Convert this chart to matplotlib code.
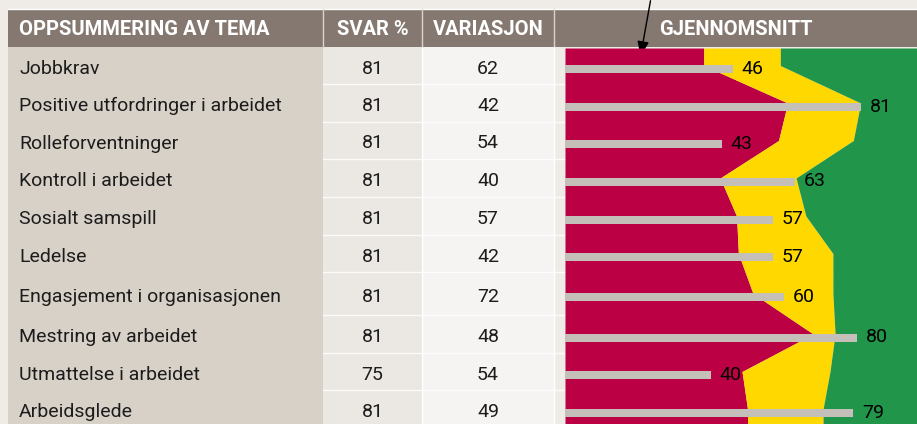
import matplotlib
matplotlib.use('Agg')
import matplotlib.pyplot as plt
from matplotlib.patches import Rectangle
import numpy as np

plt.rcParams['font.family'] = ['Roboto', 'DejaVu Sans']

## data
temaer = ['Jobbkrav', 'Positive utfordringer i arbeidet', 'Rolleforventninger',
          'Kontroll i arbeidet', 'Sosialt samspill', 'Ledelse',
          'Engasjement i organisasjonen', 'Mestring av arbeidet',
          'Utmattelse i arbeidet', 'Arbeidsglede']
svar = [81, 81, 81, 81, 81, 81, 81, 81, 75, 81]
variasjon = [62, 42, 54, 40, 57, 42, 72, 48, 54, 49]
gjennomsnitt = [46, 81, 43, 63, 57, 57, 60, 80, 40, 79]
# band edges (share red, red+yellow) per row
red_edge = [38, 61, 58.5, 42.5, 47, 47.5, 51.5, 68, 48.5, 50]
green_edge = [59, 81, 79, 63.3, 66, 73.4, 73.4, 74, 72.6, 70.7]

headers = ['OPPSUMMERING AV TEMA', 'SVAR %', 'VARIASJON', 'GJENNOMSNITT']

## layout (pixels)
W, H = 917, 424
col_edges = [8, 323, 422, 554, W]
col_colors = ['#d8d1c8', '#ebe8e3', '#f5f4f2']
head_top, head_bot = 9, 47
row_heights = [37, 38, 37, 38, 38, 37, 43, 38, 37, 38]
row_tops = head_bot + np.concatenate([[0], np.cumsum(row_heights)[:-1]])
row_mid = row_tops + np.array(row_heights) / 2
chart_left = 565
px_per_unit = 3.65

bg = '#efece7'
head_col = '#857870'
txt = '#1c1c1c'
fs = 14
hfs = 14.5

fig = plt.figure(figsize=(W / 100, H / 100), dpi=100, facecolor=bg)
ax = fig.add_axes([0, 0, 1, 1])
ax.set_xlim(0, W)
ax.set_ylim(H, 0)
ax.axis('off')

## header
ax.add_patch(Rectangle((col_edges[0], head_top), W - col_edges[0], head_bot - head_top,
                       color=head_col, lw=0))
ax.plot([col_edges[0], W], [head_top - 0.5, head_top - 0.5], color='white', lw=1)
for i, h in enumerate(headers):
    if i == 0:
        ax.text(19, (head_top + head_bot) / 2 + 1.5, h, color='white', fontsize=hfs,
                fontweight='bold', va='center', ha='left')
    else:
        ax.text((col_edges[i] + col_edges[i + 1]) / 2, (head_top + head_bot) / 2 + 1.5, h,
                color='white', fontsize=hfs, fontweight='bold', va='center', ha='center')
for x in col_edges[1:4]:
    ax.plot([x, x], [head_top, head_bot], color='#d9d4cf', lw=1)

## table columns
for i, c in enumerate(col_colors):
    ax.add_patch(Rectangle((col_edges[i], head_bot), col_edges[i + 1] - col_edges[i],
                           H - head_bot, color=c, lw=0))
for x in col_edges[2:4]:
    ax.plot([x, x], [head_bot, H], color='white', lw=1)

for i in range(len(temaer)):
    y = row_mid[i] + 3
    ax.text(19, y, temaer[i], fontsize=fs, color=txt, va='center', ha='left')
    ax.text((col_edges[1] + col_edges[2]) / 2, y, str(svar[i]), fontsize=fs,
            color=txt, va='center', ha='center')
    ax.text((col_edges[2] + col_edges[3]) / 2, y, str(variasjon[i]), fontsize=fs,
            color=txt, va='center', ha='center')

## chart (GJENNOMSNITT)
ax2 = fig.add_axes([chart_left / W, 0, (W - chart_left) / W, 1])
ax2.set_xlim(0, (W - chart_left) / px_per_unit)
ax2.set_ylim(H, 0)
ax2.axis('off')

yy = np.concatenate([[head_bot + 1], row_mid, [H]])
red = np.concatenate([[red_edge[0]], red_edge, [red_edge[-1]]])
green = np.concatenate([[green_edge[0]], green_edge, [green_edge[-1]]])
ax2.fill_betweenx(yy, 0, red, color='#bb0044', lw=0)
ax2.fill_betweenx(yy, red, green, color='#ffd800', lw=0)
ax2.fill_betweenx(yy, green, 110, color='#21954a', lw=0)

ax2.barh(row_mid + 3.5, gjennomsnitt, height=8, color='#c4bfb9', left=0)
for i, v in enumerate(gjennomsnitt):
    ax2.text(v + 2.4, row_mid[i] + 3.5, str(v), fontsize=fs, color='black',
             va='center', ha='left')

## row lines
for t in row_tops[1:]:
    ax.plot([col_edges[1], W], [t, t], color='white', lw=1, alpha=0.85, zorder=5)

## arrow
ax.annotate('', xy=(640, 59), xytext=(651, -2),
            arrowprops=dict(arrowstyle='-|>,head_length=0.9,head_width=0.35',
                            color='black', lw=1), zorder=6)

fig.savefig('out.png', dpi=100, facecolor=bg)
